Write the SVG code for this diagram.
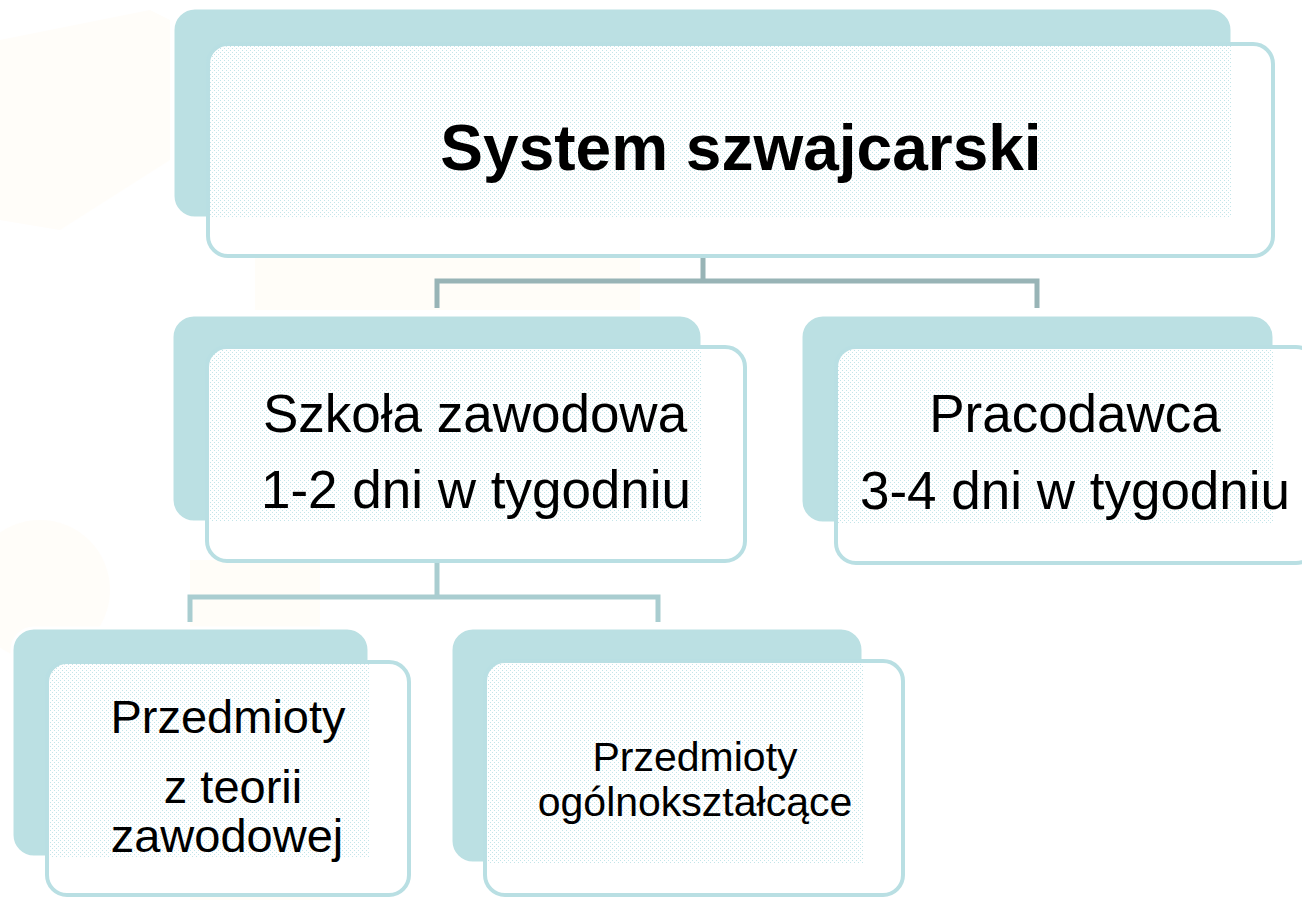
<svg xmlns="http://www.w3.org/2000/svg" width="1302" height="901" viewBox="0 0 1302 901">
<defs>
<pattern id="dots" width="4" height="4" patternUnits="userSpaceOnUse">
<rect x="0" y="0" width="1" height="1" fill="#c3e5e9"/>
<rect x="2" y="2" width="1" height="1" fill="#c3e5e9"/>
</pattern>
</defs>
<style>
.back{fill:#bbe0e3;stroke:#ffffff;stroke-width:3}
.front{fill:#ffffff;stroke:#b9dfe3;stroke-width:4}
.dot{fill:url(#dots)}
.t{font-family:"Liberation Sans",Arial,sans-serif;fill:#000;text-anchor:middle}
.c1{fill:none;stroke:#98b4b6;stroke-width:5}
.c2{fill:none;stroke:#a9cdd0;stroke-width:5}
</style>
<rect width="1302" height="901" fill="#ffffff"/>
<g id="background" fill="#fffcf4">
<path d="M0 40 L150 10 L170 20 L170 160 L60 230 L0 220 Z" opacity="0.5"/>
<rect x="255" y="258" width="385" height="52" opacity="0.6"/>
<rect x="190" y="560" width="130" height="340" opacity="0.6"/>
<circle cx="40" cy="590" r="70" opacity="0.5"/>
</g>
<g id="connectors">
<path class="c1" d="M703 258 V281 M437 308 V281 H1037 V308"/>
<path class="c2" d="M437 562 V597 M190 622 V597 H658 V622"/>
</g>
<g id="node-system">
<rect class="back" x="173" y="8" width="1059" height="210" rx="22"/>
<rect class="front" x="208" y="44" width="1065" height="212" rx="20"/>
<path class="dot" d="M230 46 H1232 V218 H210 V66 Q210 46 230 46 Z"/>
<text class="t" x="741" y="170" font-size="64" font-weight="bold">System szwajcarski</text>
</g>
<g id="node-szkola">
<rect class="back" x="172" y="315" width="530" height="207" rx="22"/>
<rect class="front" x="207" y="347" width="538" height="214" rx="20"/>
<path class="dot" d="M229 349 H702 V522 H209 V369 Q209 349 229 349 Z"/>
<text class="t" x="475" y="432" font-size="53">Szkoła zawodowa</text>
<text class="t" x="476" y="508" font-size="53">1-2 dni w tygodniu</text>
</g>
<g id="node-pracodawca">
<rect class="back" x="801" y="315" width="473" height="208" rx="22"/>
<rect class="front" x="836" y="347" width="480" height="216" rx="20"/>
<path class="dot" d="M858 349 H1274 V523 H838 V369 Q838 349 858 349 Z"/>
<text class="t" x="1075" y="432" font-size="53">Pracodawca</text>
<text class="t" x="1075" y="509" font-size="53">3-4 dni w tygodniu</text>
</g>
<g id="node-teoria">
<rect class="back" x="12" y="628" width="357" height="229" rx="22"/>
<rect class="front" x="47" y="662" width="362" height="233" rx="20"/>
<path class="dot" d="M69 664 H369 V857 H49 V684 Q49 664 69 664 Z"/>
<text class="t" x="228" y="733" font-size="47">Przedmioty</text>
<text class="t" x="233" y="803" font-size="47">z teorii</text>
<text class="t" x="227" y="852" font-size="47">zawodowej</text>
</g>
<g id="node-ogolne">
<rect class="back" x="451" y="628" width="412" height="235" rx="22"/>
<rect class="front" x="485" y="661" width="418" height="234" rx="20"/>
<path class="dot" d="M507 663 H863 V863 H487 V683 Q487 663 507 663 Z"/>
<text class="t" x="695" y="771" font-size="41">Przedmioty</text>
<text class="t" x="695" y="816" font-size="41">ogólnokształcące</text>
</g>
</svg>
